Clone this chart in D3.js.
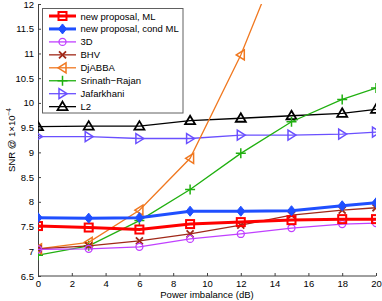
<!DOCTYPE html>
<html><head><meta charset="utf-8">
<script src="https://cdn.jsdelivr.net/npm/d3@7"></script>
<style>body{margin:0;background:#fff}svg{display:block}text{font-family:"Liberation Sans",Arial,sans-serif}</style>
</head><body><svg id="c" width="382" height="301"></svg>
<script>
const xs = [0,3,6,9,12,15,18,20];
const newML   = [7.51,7.48,7.44,7.55,7.59,7.63,7.65,7.65];
const condML  = [7.68,7.67,7.68,7.81,7.81,7.82,7.92,7.98];
const d3D     = [7.04,7.05,7.09,7.25,7.35,7.47,7.55,7.57];
const bhv     = [7.05,7.11,7.21,7.35,7.53,7.73,7.83,7.88];
const djabba  = [7.05,7.18,7.83,8.88,10.97,13.5];
const srinath = [6.92,7.11,7.62,8.25,8.98,9.62,10.07,10.30];
const jafar   = [9.32,9.32,9.28,9.28,9.35,9.35,9.37,9.41];
const l2      = [9.52,9.53,9.53,9.64,9.69,9.74,9.79,9.87];
const names = ["new proposal, ML","new proposal, cond ML","3D","BHV","DjABBA","Srinath\u2212Rajan","Jafarkhani","L2"];
const xTicks = [0,2,4,6,8,10,12,14,16,18,20];
const yTicks = [6.5,7,7.5,8,8.5,9,9.5,10,10.5,11,11.5,12];

const series = [
  {name:names[0], v:newML,  color:"#ff0000", w:3,   m:"square"},
  {name:names[1], v:condML, color:"#1f4fff", w:3,   m:"diamond"},
  {name:names[2], v:d3D,    color:"#c040ff", w:1.3, m:"circle"},
  {name:names[3], v:bhv,    color:"#a02818", w:1.3, m:"x"},
  {name:names[4], v:djabba, color:"#f07820", w:1.3, m:"tleft"},
  {name:names[5], v:srinath,color:"#20b010", w:1.3, m:"plus"},
  {name:names[6], v:jafar,  color:"#6a50ff", w:1.3, m:"tright"},
  {name:names[7], v:l2,     color:"#000000", w:1.3, m:"tup"}
];

const svg = d3.select("#c");
const L=38,R=376,T=4,B=276;
const x = d3.scaleLinear().domain([0,20]).range([L,R]);
const y = d3.scaleLinear().domain([6.5,12]).range([B,T]);

svg.append("defs").append("clipPath").attr("id","clip").append("rect")
  .attr("x",L).attr("y",T).attr("width",R-L).attr("height",B-T);

const xa = svg.append("g").attr("transform",`translate(0,${B})`)
  .call(d3.axisBottom(x).tickValues(xTicks).tickSizeInner(-3).tickSizeOuter(0).tickPadding(4).tickFormat(d3.format("d")));
const ya = svg.append("g").attr("transform",`translate(${L},0)`)
  .call(d3.axisLeft(y).tickValues(yTicks).tickSizeInner(-3).tickSizeOuter(0).tickPadding(4).tickFormat(d=>String(d)));
[xa,ya].forEach(a=>{a.selectAll("path,line").attr("stroke","#404040");
  a.selectAll("text").attr("font-size",9.5).attr("fill","#000");});
xa.select(".domain").attr("d",`M${L},0H${R}`);

svg.append("text").attr("x",207).attr("y",297.5).attr("text-anchor","middle").attr("font-size",9.5).text("Power imbalance (dB)");
const yl = svg.append("text").attr("transform","translate(15,140) rotate(-90)").attr("text-anchor","middle").attr("font-size",9.5);
yl.append("tspan").text("SNR @ 1\u00d710");
yl.append("tspan").attr("dy",-4).attr("font-size",6.5).text("\u22124");

function marker(g,m,cx,cy,color){
  const s=4;
  if(m==="square") g.append("rect").attr("x",cx-s).attr("y",cy-s).attr("width",2*s).attr("height",2*s).attr("fill","none").attr("stroke",color).attr("stroke-width",2);
  else if(m==="diamond") g.append("path").attr("d",`M${cx},${cy-5}L${cx+4},${cy}L${cx},${cy+5}L${cx-4},${cy}Z`).attr("fill",color).attr("stroke",color);
  else if(m==="circle") g.append("circle").attr("cx",cx).attr("cy",cy).attr("r",3.5).attr("fill","none").attr("stroke",color).attr("stroke-width",1.3);
  else if(m==="x") g.append("path").attr("d",`M${cx-3.5},${cy-3.5}L${cx+3.5},${cy+3.5}M${cx-3.5},${cy+3.5}L${cx+3.5},${cy-3.5}`).attr("stroke",color).attr("stroke-width",1.8);
  else if(m==="plus") g.append("path").attr("d",`M${cx-5},${cy}H${cx+5}M${cx},${cy-5}V${cy+5}`).attr("stroke",color).attr("stroke-width",1.5);
  else if(m==="tleft") g.append("path").attr("d",`M${cx-4.5},${cy}L${cx+3.5},${cy-5}L${cx+3.5},${cy+5}Z`).attr("fill","none").attr("stroke",color).attr("stroke-width",1.5);
  else if(m==="tright") g.append("path").attr("d",`M${cx+4.5},${cy}L${cx-3.5},${cy-5}L${cx-3.5},${cy+5}Z`).attr("fill","none").attr("stroke",color).attr("stroke-width",1.5);
  else if(m==="tup") g.append("path").attr("d",`M${cx},${cy-5}L${cx+5},${cy+3.5}L${cx-5},${cy+3.5}Z`).attr("fill","none").attr("stroke",color).attr("stroke-width",1.8);
}

const plot = svg.append("g").attr("clip-path","url(#clip)");
const line = d3.line().x(d=>x(d[0])).y(d=>y(d[1]));
const order=[7,6,5,4,3,2,0,1];
order.forEach(i=>{
  const s=series[i];
  const pts=s.v.map((v,j)=>[xs[j],v]);
  const g=plot.append("g");
  g.append("path").attr("d",line(pts)).attr("fill","none").attr("stroke",s.color).attr("stroke-width",s.w);
  pts.forEach(p=>marker(g,s.m,x(p[0]),y(p[1]),s.color));
});

// legend
const lg = svg.append("g");
lg.append("rect").attr("x",42.5).attr("y",8.5).attr("width",140.5).attr("height",104.5).attr("fill","#fff").attr("stroke","#606060").attr("stroke-width",1);
series.forEach((s,i)=>{
  const yy=16+i*12.95;
  lg.append("line").attr("x1",49).attr("x2",76).attr("y1",yy).attr("y2",yy).attr("stroke",s.color).attr("stroke-width",s.w);
  marker(lg,s.m,62.5,yy,s.color);
  lg.append("text").attr("x",80.5).attr("y",yy+3.5).attr("font-size",9.5).text(s.name);
});
</script></body></html>
